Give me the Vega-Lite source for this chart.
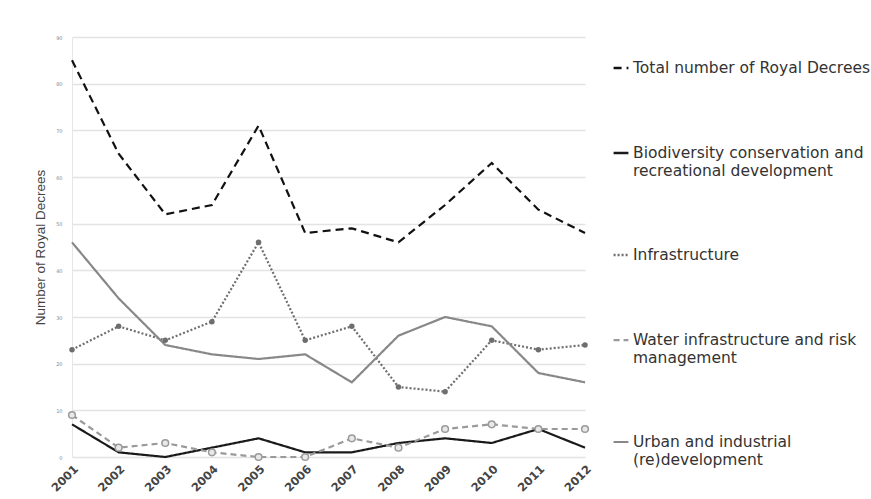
{
  "$schema": "https://vega.github.io/schema/vega-lite/v6.json",
  "autosize": "none",
  "width": 513,
  "height": 420,
  "padding": {"left": 72, "top": 37, "right": 286, "bottom": 42},
  "background": "white",
  "config": {
    "font": "DejaVu Sans",
    "view": {"stroke": null}
  },
  "data": {
    "values": [
      {"year": "2001", "series": "Total number of Royal Decrees", "value": 85},
      {"year": "2002", "series": "Total number of Royal Decrees", "value": 65},
      {"year": "2003", "series": "Total number of Royal Decrees", "value": 52},
      {"year": "2004", "series": "Total number of Royal Decrees", "value": 54},
      {"year": "2005", "series": "Total number of Royal Decrees", "value": 71},
      {"year": "2006", "series": "Total number of Royal Decrees", "value": 48},
      {"year": "2007", "series": "Total number of Royal Decrees", "value": 49},
      {"year": "2008", "series": "Total number of Royal Decrees", "value": 46},
      {"year": "2009", "series": "Total number of Royal Decrees", "value": 54},
      {"year": "2010", "series": "Total number of Royal Decrees", "value": 63},
      {"year": "2011", "series": "Total number of Royal Decrees", "value": 53},
      {"year": "2012", "series": "Total number of Royal Decrees", "value": 48},
      {"year": "2001", "series": "Biodiversity conservation and|recreational development", "value": 7},
      {"year": "2002", "series": "Biodiversity conservation and|recreational development", "value": 1},
      {"year": "2003", "series": "Biodiversity conservation and|recreational development", "value": 0},
      {"year": "2004", "series": "Biodiversity conservation and|recreational development", "value": 2},
      {"year": "2005", "series": "Biodiversity conservation and|recreational development", "value": 4},
      {"year": "2006", "series": "Biodiversity conservation and|recreational development", "value": 1},
      {"year": "2007", "series": "Biodiversity conservation and|recreational development", "value": 1},
      {"year": "2008", "series": "Biodiversity conservation and|recreational development", "value": 3},
      {"year": "2009", "series": "Biodiversity conservation and|recreational development", "value": 4},
      {"year": "2010", "series": "Biodiversity conservation and|recreational development", "value": 3},
      {"year": "2011", "series": "Biodiversity conservation and|recreational development", "value": 6},
      {"year": "2012", "series": "Biodiversity conservation and|recreational development", "value": 2},
      {"year": "2001", "series": "Infrastructure", "value": 23},
      {"year": "2002", "series": "Infrastructure", "value": 28},
      {"year": "2003", "series": "Infrastructure", "value": 25},
      {"year": "2004", "series": "Infrastructure", "value": 29},
      {"year": "2005", "series": "Infrastructure", "value": 46},
      {"year": "2006", "series": "Infrastructure", "value": 25},
      {"year": "2007", "series": "Infrastructure", "value": 28},
      {"year": "2008", "series": "Infrastructure", "value": 15},
      {"year": "2009", "series": "Infrastructure", "value": 14},
      {"year": "2010", "series": "Infrastructure", "value": 25},
      {"year": "2011", "series": "Infrastructure", "value": 23},
      {"year": "2012", "series": "Infrastructure", "value": 24},
      {"year": "2001", "series": "Water infrastructure and risk|management", "value": 9},
      {"year": "2002", "series": "Water infrastructure and risk|management", "value": 2},
      {"year": "2003", "series": "Water infrastructure and risk|management", "value": 3},
      {"year": "2004", "series": "Water infrastructure and risk|management", "value": 1},
      {"year": "2005", "series": "Water infrastructure and risk|management", "value": 0},
      {"year": "2006", "series": "Water infrastructure and risk|management", "value": 0},
      {"year": "2007", "series": "Water infrastructure and risk|management", "value": 4},
      {"year": "2008", "series": "Water infrastructure and risk|management", "value": 2},
      {"year": "2009", "series": "Water infrastructure and risk|management", "value": 6},
      {"year": "2010", "series": "Water infrastructure and risk|management", "value": 7},
      {"year": "2011", "series": "Water infrastructure and risk|management", "value": 6},
      {"year": "2012", "series": "Water infrastructure and risk|management", "value": 6},
      {"year": "2001", "series": "Urban and industrial|(re)development", "value": 46},
      {"year": "2002", "series": "Urban and industrial|(re)development", "value": 34},
      {"year": "2003", "series": "Urban and industrial|(re)development", "value": 24},
      {"year": "2004", "series": "Urban and industrial|(re)development", "value": 22},
      {"year": "2005", "series": "Urban and industrial|(re)development", "value": 21},
      {"year": "2006", "series": "Urban and industrial|(re)development", "value": 22},
      {"year": "2007", "series": "Urban and industrial|(re)development", "value": 16},
      {"year": "2008", "series": "Urban and industrial|(re)development", "value": 26},
      {"year": "2009", "series": "Urban and industrial|(re)development", "value": 30},
      {"year": "2010", "series": "Urban and industrial|(re)development", "value": 28},
      {"year": "2011", "series": "Urban and industrial|(re)development", "value": 18},
      {"year": "2012", "series": "Urban and industrial|(re)development", "value": 16}
    ]
  },
  "encoding": {
    "x": {
      "field": "year", "type": "ordinal",
      "scale": {"type": "point", "padding": 0},
      "axis": {
        "title": null, "labelAngle": -45, "labelFontSize": 11.5, "labelColor": "#444",
        "labelFontWeight": "bold",
        "domain": false, "ticks": false, "grid": false, "labelPadding": 6
      }
    },
    "y": {
      "field": "value", "type": "quantitative",
      "scale": {"domain": [0, 90], "nice": false},
      "axis": {
        "title": "Number of Royal Decrees", "titleFontSize": 13.5, "titleFontWeight": "normal",
        "titleFont": "Liberation Sans",
        "titleColor": "#444", "titlePadding": 8,
        "values": [0, 10, 20, 30, 40, 50, 60, 70, 80, 90],
        "labelFontSize": 5, "labelColor": "#888", "labelPadding": 10,
        "domain": true, "domainColor": "#e6e6e6", "ticks": false,
        "grid": true, "gridColor": "#e3e3e3", "gridWidth": 1.5
      }
    }
  },
  "layer": [
    {
      "mark": {"type": "line", "strokeWidth": 2.2},
      "encoding": {
        "color": {
          "field": "series", "type": "nominal",
          "scale": {
            "domain": ["Total number of Royal Decrees", "Biodiversity conservation and|recreational development", "Infrastructure", "Water infrastructure and risk|management", "Urban and industrial|(re)development"],
            "range": ["#111111", "#1a1a1a", "#6e6e6e", "#9a9a9a", "#888888"]
          },
          "legend": {
            "orient": "none", "legendX": 540, "legendY": 22,
            "title": null, "symbolType": "stroke", "symbolSize": 220, "symbolStrokeWidth": 2.2,
            "labelFontSize": 15.5, "labelColor": "#333", "labelLimit": 400,
            "labelLineHeight": 20,
            "labelExpr": "split(datum.label, '|')", "rowPadding": 67, "labelOffset": 3
          }
        },
        "strokeDash": {
          "field": "series", "type": "nominal",
          "scale": {
            "domain": ["Total number of Royal Decrees", "Biodiversity conservation and|recreational development", "Infrastructure", "Water infrastructure and risk|management", "Urban and industrial|(re)development"],
            "range": [[8, 5], [1, 0], [2, 2], [6, 4], [1, 0]]
          },
          "legend": null
        },
        "strokeWidth": {
          "field": "series", "type": "nominal",
          "scale": {
            "domain": ["Total number of Royal Decrees", "Biodiversity conservation and|recreational development", "Infrastructure", "Water infrastructure and risk|management", "Urban and industrial|(re)development"],
            "range": [2.4, 2.2, 1.6, 2.0, 2.0]
          },
          "legend": null
        }
      }
    },
    {
      "transform": [{"filter": "datum.series === 'Infrastructure'"}],
      "mark": {"type": "point", "filled": true, "color": "#6e6e6e", "size": 30, "opacity": 1}
    },
    {
      "transform": [{"filter": "datum.series === 'Water infrastructure and risk|management'"}],
      "mark": {"type": "point", "filled": true, "fill": "#e8e8e8", "stroke": "#9a9a9a", "strokeWidth": 1.5, "size": 45, "opacity": 1}
    }
  ]
}
